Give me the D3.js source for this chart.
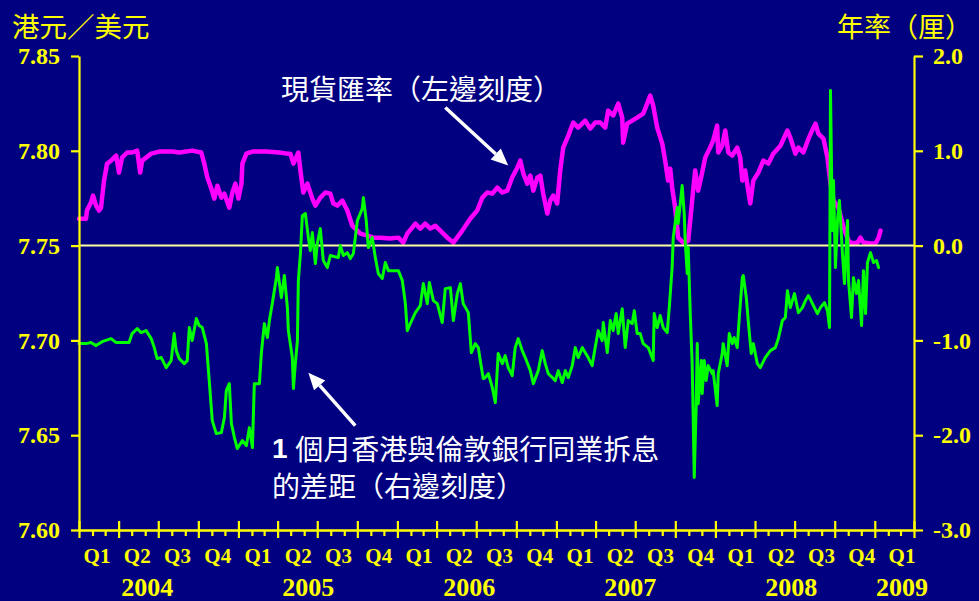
<!DOCTYPE html>
<html><head><meta charset="utf-8">
<script src="https://cdn.jsdelivr.net/npm/d3@7"></script>
<style>html,body{margin:0;padding:0;background:#000080;}svg{display:block;}</style>
</head><body>
<svg id="chart" width="979" height="601"></svg>
<script>
// ---- DATA (dates as decimal years) ----
const spotDates = [
2004.000,2004.044,2004.050,2004.075,2004.088,2004.107,2004.126,2004.138,2004.157,2004.176,
2004.201,2004.233,2004.251,2004.270,2004.302,2004.333,2004.365,2004.384,2004.396,2004.421,
2004.453,2004.503,2004.585,2004.629,2004.710,2004.767,2004.786,2004.805,2004.830,2004.849,
2004.868,2004.893,2004.912,2004.931,2004.943,2004.962,2004.981,2005.000,2005.019,2005.025,
2005.050,2005.088,2005.176,2005.257,2005.308,2005.327,2005.346,2005.377,2005.390,2005.408,
2005.434,2005.465,2005.484,2005.515,2005.547,2005.578,2005.597,2005.622,2005.654,2005.685,
2005.716,2005.748,2005.767,2005.811,2005.849,2005.893,2005.955,2006.006,2006.037,2006.062,
2006.113,2006.144,2006.175,2006.207,2006.238,2006.270,2006.314,2006.352,2006.408,2006.458,
2006.502,2006.534,2006.565,2006.597,2006.628,2006.660,2006.691,2006.722,2006.754,2006.773,
2006.792,2006.817,2006.836,2006.855,2006.880,2006.899,2006.917,2006.943,2006.961,2006.980,
2007.005,2007.024,2007.043,2007.075,2007.106,2007.137,2007.181,2007.213,2007.244,2007.276,
2007.307,2007.326,2007.357,2007.389,2007.414,2007.420,2007.445,2007.477,2007.508,2007.546,
2007.571,2007.590,2007.609,2007.634,2007.666,2007.684,2007.703,2007.716,2007.728,2007.747,
2007.766,2007.798,2007.810,2007.829,2007.842,2007.860,2007.873,2007.892,2007.917,2007.936,
2007.967,2007.986,2008.011,2008.018,2008.043,2008.062,2008.081,2008.106,2008.137,2008.156,
2008.169,2008.187,2008.206,2008.219,2008.238,2008.269,2008.301,2008.332,2008.363,2008.408,
2008.452,2008.470,2008.502,2008.521,2008.552,2008.584,2008.615,2008.628,2008.646,2008.678,
2008.703,2008.722,2008.741,2008.772,2008.804,2008.835,2008.860,2008.892,2008.910,2008.929,
2008.973,2009.005,2009.024,2009.036];
const spotValues = [
7.7642,7.7642,7.7685,7.7727,7.7764,7.7711,7.7685,7.7700,7.7843,7.7932,
7.7948,7.7975,7.7885,7.7964,7.7991,7.7991,7.8001,7.7885,7.7948,7.7964,
7.7985,7.7996,7.7996,7.7991,7.8001,7.7991,7.7932,7.7859,7.7801,7.7748,
7.7816,7.7753,7.7774,7.7727,7.7700,7.7780,7.7827,7.7748,7.7827,7.7932,
7.7985,7.7996,7.7996,7.7991,7.7985,7.7985,7.7932,7.7991,7.7896,7.7780,
7.7827,7.7748,7.7711,7.7753,7.7780,7.7774,7.7722,7.7711,7.7737,7.7685,
7.7605,7.7579,7.7563,7.7553,7.7542,7.7542,7.7537,7.7542,7.7516,7.7563,
7.7616,7.7590,7.7616,7.7590,7.7605,7.7579,7.7542,7.7516,7.7579,7.7642,
7.7685,7.7753,7.7780,7.7774,7.7806,7.7780,7.7790,7.7859,7.7911,7.7948,
7.7880,7.7827,7.7869,7.7790,7.7859,7.7869,7.7774,7.7669,7.7737,7.7764,
7.7722,7.7896,7.8017,7.8080,7.8149,7.8122,7.8159,7.8117,7.8149,7.8149,
7.8122,7.8212,7.8186,7.8249,7.8175,7.8043,7.8143,7.8159,7.8175,7.8196,
7.8249,7.8291,7.8238,7.8122,7.8038,7.7948,7.7843,7.7906,7.7806,7.7700,
7.7542,7.7516,7.7516,7.7526,7.7632,7.7790,7.7896,7.7790,7.7885,7.7964,
7.8017,7.8054,7.8133,7.7991,7.8027,7.8107,7.7991,7.7975,7.8017,7.7964,
7.7843,7.7896,7.7790,7.7722,7.7843,7.7885,7.7948,7.7932,7.7985,7.8027,
7.8107,7.8070,7.7985,7.8017,7.7991,7.8064,7.8122,7.8143,7.8091,7.8064,
7.7964,7.7827,7.7737,7.7700,7.7595,7.7526,7.7511,7.7516,7.7542,7.7516,
7.7511,7.7511,7.7542,7.7579];
const spreadDates = [
2004.000,2004.044,2004.075,2004.107,2004.145,2004.201,2004.233,2004.314,2004.333,2004.365,
2004.390,2004.421,2004.453,2004.472,2004.490,2004.516,2004.547,2004.578,2004.597,2004.610,
2004.629,2004.660,2004.679,2004.692,2004.710,2004.736,2004.754,2004.773,2004.799,2004.817,
2004.836,2004.861,2004.893,2004.912,2004.924,2004.943,2004.956,2004.975,2004.993,2005.025,
2005.050,2005.069,2005.088,2005.100,2005.132,2005.144,2005.163,2005.182,2005.195,2005.213,
2005.239,2005.245,2005.270,2005.289,2005.308,2005.314,2005.339,2005.346,2005.358,2005.371,
2005.377,2005.390,2005.402,2005.421,2005.440,2005.452,2005.465,2005.484,2005.496,2005.515,
2005.534,2005.559,2005.578,2005.628,2005.641,2005.660,2005.685,2005.704,2005.723,2005.748,
2005.779,2005.786,2005.804,2005.817,2005.842,2005.861,2005.880,2005.905,2005.924,2005.943,
2005.974,2006.006,2006.031,2006.050,2006.062,2006.081,2006.113,2006.144,2006.163,2006.188,
2006.201,2006.226,2006.251,2006.282,2006.301,2006.333,2006.352,2006.377,2006.396,2006.414,
2006.446,2006.465,2006.490,2006.509,2006.521,2006.540,2006.553,2006.572,2006.597,2006.616,
2006.634,2006.660,2006.678,2006.697,2006.722,2006.741,2006.760,2006.785,2006.804,2006.836,
2006.855,2006.886,2006.911,2006.930,2006.949,2006.974,2006.993,2007.012,2007.037,2007.056,
2007.075,2007.100,2007.119,2007.137,2007.163,2007.181,2007.200,2007.225,2007.244,2007.263,
2007.288,2007.295,2007.320,2007.339,2007.357,2007.376,2007.389,2007.414,2007.433,2007.452,
2007.477,2007.490,2007.508,2007.527,2007.546,2007.578,2007.609,2007.615,2007.634,2007.653,
2007.672,2007.697,2007.710,2007.728,2007.735,2007.760,2007.766,2007.791,2007.804,2007.810,
2007.823,2007.829,2007.842,2007.854,2007.860,2007.867,2007.879,2007.886,2007.892,2007.911,
2007.917,2007.930,2007.942,2007.955,2007.980,2007.986,2008.011,2008.018,2008.043,2008.049,
2008.074,2008.087,2008.106,2008.118,2008.137,2008.150,2008.169,2008.175,2008.194,2008.206,
2008.225,2008.238,2008.263,2008.282,2008.313,2008.345,2008.376,2008.395,2008.420,2008.439,
2008.452,2008.470,2008.496,2008.521,2008.546,2008.565,2008.584,2008.609,2008.640,2008.659,
2008.684,2008.703,2008.716,2008.722,2008.734,2008.741,2008.753,2008.766,2008.778,2008.797,
2008.810,2008.829,2008.835,2008.854,2008.866,2008.885,2008.898,2008.917,2008.929,2008.942,
2008.954,2008.973,2008.992,2009.011,2009.024];
const spreadValues = [
-1.034,-1.034,-1.023,-1.055,-1.013,-0.981,-1.023,-1.023,-0.928,-0.876,
-0.918,-0.897,-0.981,-1.076,-1.192,-1.181,-1.287,-1.213,-0.928,-1.108,
-1.192,-1.245,-1.213,-0.865,-1.002,-0.770,-0.844,-0.865,-1.034,-1.424,
-1.846,-1.983,-1.973,-1.814,-1.530,-1.456,-1.878,-2.025,-2.141,-2.057,
-2.110,-1.920,-2.131,-1.456,-1.456,-1.139,-0.823,-0.970,-0.791,-0.612,
-0.338,-0.232,-0.549,-0.316,-0.654,-0.897,-1.181,-1.508,-1.245,-1.002,
-0.369,-0.084,0.316,0.338,0.084,-0.053,0.137,-0.190,0.021,0.179,
-0.158,-0.232,-0.105,-0.127,0.000,-0.105,-0.074,-0.137,-0.084,0.264,
0.390,0.506,0.264,-0.021,0.084,-0.127,-0.295,-0.348,-0.179,-0.264,
-0.264,-0.264,-0.369,-0.612,-0.897,-0.823,-0.707,-0.633,-0.401,-0.612,
-0.390,-0.580,-0.612,-0.812,-0.454,-0.443,-0.791,-0.506,-0.401,-0.612,
-0.707,-1.129,-1.034,-1.076,-1.213,-1.403,-1.392,-1.350,-1.498,-1.656,
-1.139,-1.245,-1.160,-1.287,-1.371,-1.076,-0.981,-1.108,-1.181,-1.319,
-1.456,-1.319,-1.108,-1.245,-1.350,-1.392,-1.424,-1.319,-1.445,-1.319,
-1.392,-1.266,-1.076,-1.181,-1.076,-1.129,-1.181,-1.266,-1.076,-0.897,
-1.002,-0.812,-1.129,-0.791,-0.897,-0.717,-0.928,-0.665,-1.076,-0.791,
-0.823,-0.686,-0.928,-0.928,-1.034,-1.076,-1.213,-0.717,-0.865,-0.738,
-0.865,-0.918,-0.654,-0.232,0.084,0.401,0.232,0.633,0.338,0.053,
-0.295,-0.021,-0.717,-1.245,-1.772,-2.447,-1.709,-1.034,-1.667,-1.213,
-1.561,-1.213,-1.424,-1.266,-1.350,-1.319,-1.688,-1.350,-1.139,-1.034,
-1.266,-0.928,-1.034,-0.970,-1.076,-0.759,-0.338,-0.316,-0.549,-0.791,
-1.139,-1.034,-1.245,-1.287,-1.181,-1.108,-1.076,-0.981,-0.791,-0.759,
-0.475,-0.654,-0.506,-0.707,-0.654,-0.580,-0.528,-0.612,-0.717,-0.654,
-0.601,-0.686,-0.865,1.635,0.158,0.686,-0.232,0.264,0.475,-0.084,
-0.401,0.264,-0.369,-0.759,-0.338,-0.506,-0.369,-0.844,-0.264,-0.717,
-0.179,-0.074,-0.179,-0.158,-0.232];
const leftTicks = [7.60, 7.65, 7.70, 7.75, 7.80, 7.85];
const rightTicks = [-3, -2, -1, 0, 1, 2];
const quarterLabels = ["Q1","Q2","Q3","Q4","Q1","Q2","Q3","Q4","Q1","Q2","Q3","Q4",
                       "Q1","Q2","Q3","Q4","Q1","Q2","Q3","Q4","Q1"];
const yearLabels = ["2004","2005","2006","2007","2008","2009"];
const leftTitle = "港元／美元";
const rightTitle = "年率（厘）";
const spotNote = "現貨匯率（左邊刻度）";
const spreadNote1 = "個月香港與倫敦銀行同業拆息";
const spreadNote2 = "的差距（右邊刻度）";

// ---- helpers ----
function decToDate(d){
  const y = Math.floor(d + 1e-9);
  const s = Date.UTC(y,0,1), e = Date.UTC(y+1,0,1);
  return new Date(s + (d - y) * (e - s));
}
const YEL = "#FFFF00", MAG = "#FF00FF", GRN = "#00FF00";
const serif = "'Liberation Serif','Times New Roman',serif";
const cjk = "'Noto Sans CJK TC','Noto Sans CJK SC',sans-serif";

const svg = d3.select("#chart");
svg.append("rect").attr("width",979).attr("height",601).attr("fill","#000080");

const x0 = 79, x1 = 914, yTop = 56, yBot = 530;
const start = new Date(Date.UTC(2004,0,1)), end = new Date(Date.UTC(2009,3,1));
const x = d3.scaleUtc().domain([start, end]).range([x0, x1]);
const yL = d3.scaleLinear().domain([7.60, 7.85]).range([yBot, yTop]);
const yR = d3.scaleLinear().domain([-3, 2]).range([yBot, yTop]);

const refLine = () => svg.append("line")
  .attr("x1", x0).attr("x2", x1).attr("y1", yL(7.75)).attr("y2", yL(7.75))
  .attr("stroke", "#FFFFA0").attr("stroke-width", 2);

const spot = spotDates.map((d,i)=>({t:decToDate(d), v:spotValues[i]}));
const spread = spreadDates.map((d,i)=>({t:decToDate(d), v:spreadValues[i]}));

svg.append("path").datum(spot)
  .attr("d", d3.line().x(d=>x(d.t)).y(d=>yL(d.v)))
  .attr("fill","none").attr("stroke",MAG).attr("stroke-width",4.5)
  .attr("stroke-linejoin","round").attr("stroke-linecap","round");
refLine();
svg.append("path").datum(spread)
  .attr("d", d3.line().x(d=>x(d.t)).y(d=>yR(d.v)))
  .attr("fill","none").attr("stroke",GRN).attr("stroke-width",3)
  .attr("stroke-linejoin","round").attr("stroke-linecap","round");

function styleAxis(g){
  g.selectAll("path,line").attr("stroke", YEL).attr("stroke-width", 2.2);
  g.selectAll("text").attr("fill", YEL).attr("font-family", serif)
    .attr("font-weight","bold").attr("font-size", 24);
}
const gL = svg.append("g").attr("transform",`translate(${x0},0)`)
  .call(d3.axisLeft(yL).tickValues(leftTicks).tickFormat(d=>d.toFixed(2))
    .tickSize(8).tickSizeOuter(0).tickPadding(11));
styleAxis(gL);
const gR = svg.append("g").attr("transform",`translate(${x1},0)`)
  .call(d3.axisRight(yR).tickValues(rightTicks).tickFormat(d=>d.toFixed(1))
    .tickSize(9).tickSizeOuter(0).tickPadding(10));
styleAxis(gR);

const quarterStarts = d3.utcMonth.every(3).range(start, new Date(Date.UTC(2009,3,2)));
const minorMonths = d3.utcMonth.range(start, end).filter(d => d.getUTCMonth() % 3 !== 0);
const gMinor = svg.append("g").attr("transform",`translate(0,${yBot})`)
  .call(d3.axisBottom(x).tickValues(minorMonths).tickFormat("").tickSize(6).tickSizeOuter(0));
styleAxis(gMinor);
const gMajor = svg.append("g").attr("transform",`translate(0,${yBot})`)
  .call(d3.axisBottom(x).tickValues(quarterStarts).tickFormat("").tickSize(8).tickSizeOuter(0));
styleAxis(gMajor);
gMajor.selectAll(".tick line").attr("y1", -9);

const qx = d3.scaleLinear().domain([0, quarterLabels.length - 1]).range([x(start)+18, x(end)-12]);
svg.append("g").selectAll("text").data(quarterLabels).join("text")
  .attr("x", (d,i)=>qx(i)).attr("y", 563).attr("text-anchor","middle")
  .attr("fill", YEL).attr("font-family", serif).attr("font-weight","bold").attr("font-size", 21)
  .text(d=>d);
svg.append("g").selectAll("text").data(yearLabels).join("text")
  .attr("x", (d,i)=> i < yearLabels.length-1 ? qx(i*4 + 1.25) : qx(quarterLabels.length-1))
  .attr("y", 596).attr("text-anchor","middle")
  .attr("fill", YEL).attr("font-family", serif).attr("font-weight","bold").attr("font-size", 26)
  .text(d=>d);

svg.append("text").attr("x", 12).attr("y", 25).attr("dominant-baseline","central")
  .attr("fill", YEL).attr("font-family", cjk).attr("font-size", 27.5).text(leftTitle);
svg.append("text").attr("x", 972).attr("y", 25).attr("dominant-baseline","central")
  .attr("text-anchor","end")
  .attr("fill", YEL).attr("font-family", cjk).attr("font-size", 27).text(rightTitle);

svg.append("text").attr("x", 281).attr("y", 88).attr("dominant-baseline","central")
  .attr("fill","#fff").attr("font-family", cjk).attr("font-size", 28).text(spotNote);
const t1 = svg.append("text").attr("x", 272).attr("y", 448).attr("dominant-baseline","central")
  .attr("fill","#fff").attr("font-family", cjk).attr("font-size", 28);
t1.append("tspan").attr("font-family","'Liberation Sans',Arial,sans-serif").attr("font-weight","bold").text("1 ");
t1.append("tspan").text(spreadNote1);
svg.append("text").attr("x", 272).attr("y", 485).attr("dominant-baseline","central")
  .attr("fill","#fff").attr("font-family", cjk).attr("font-size", 28).text(spreadNote2);

function arrow(ax, ay, bx, by){
  const ang = Math.atan2(by-ay, bx-ax);
  const hl = 17, hw = 7.5;
  const cx = bx - hl*Math.cos(ang), cy = by - hl*Math.sin(ang);
  svg.append("line").attr("x1",ax).attr("y1",ay).attr("x2",cx).attr("y2",cy)
    .attr("stroke","#fff").attr("stroke-width",3.5);
  const pts = [[bx,by],[cx + hw*Math.sin(ang), cy - hw*Math.cos(ang)],[cx - hw*Math.sin(ang), cy + hw*Math.cos(ang)]];
  svg.append("polygon").attr("points", pts.map(p=>p.join(",")).join(" ")).attr("fill","#fff");
}
arrow(x(decToDate(2006.301)), yL(7.8228), x(decToDate(2006.697)), yL(7.7922));
arrow(x(decToDate(2005.735)), yR(-1.899), x(decToDate(2005.440)), yR(-1.340));
</script>
</body></html>
